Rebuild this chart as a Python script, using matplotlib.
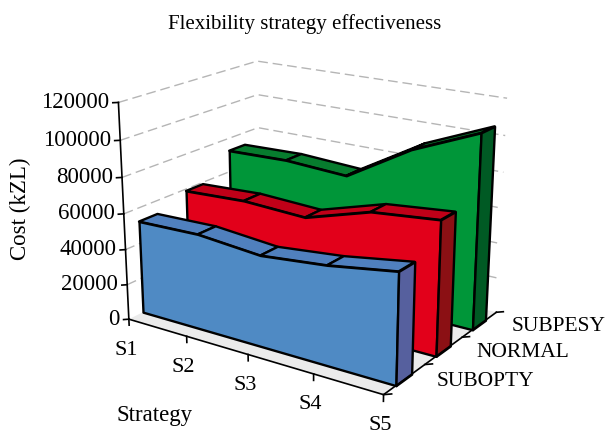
import matplotlib
matplotlib.use('Agg')
import matplotlib.pyplot as plt
import numpy as np
from mpl_toolkits.mplot3d import proj3d
from mpl_toolkits.mplot3d.art3d import Poly3DCollection

plt.rcParams['font.family'] = ['Liberation Serif', 'DejaVu Serif']

strategies = ['S1', 'S2', 'S3', 'S4', 'S5']
scenarios = ['SUBOPTY', 'NORMAL', 'SUBPESY']
cost_subopty = [52400, 53200, 50000, 53400, 59000]
cost_normal = [58900, 60500, 58800, 69500, 73000]
cost_subpesy = [72600, 73500, 71400, 92600, 107900]
zticks = [0, 20000, 40000, 60000, 80000, 100000, 120000]

front_colors = ['#4f8ac4', '#e2001a', '#009639']
top_colors = ['#5080be', '#c00018', '#077c2e']
side_colors = ['#56609e', '#8b1014', '#005a24']
series = [cost_subopty, cost_normal, cost_subpesy]

W, H = 609, 434
fig = plt.figure(figsize=(W / 100, H / 100), dpi=100)
size = 428.4
ax = fig.add_axes([94 / W, 3 / H, size / W, size / H], projection='3d', computed_zorder=False)
ax.view_init(elev=18.76, azim=-56.13, roll=-0.07)
ax.set_proj_type('persp', focal_length=0.565)
ax.set_box_aspect((1, 0.747, 0.75))
ax.set_axis_off()

x = np.arange(len(strategies))
x_max = x[-1]
y_max = len(scenarios)
z_max = zticks[-1]


def label(xv, yv, zv, text, dx, dy, **kw):
    # 3D anchor, text offset in pixels on the picture
    u, v, _ = proj3d.proj_transform(xv, yv, zv, ax.get_proj())
    ax.annotate(text, (u, v), xytext=(dx, dy), textcoords='offset pixels',
                annotation_clip=False, zorder=60, **kw)


# back walls, dashed grid only
for z in zticks[1:]:
    ax.plot([0, 0, x_max], [0, y_max, y_max], [z, z, z], color='#b5b5b5', lw=1,
            ls=(0, (7, 3.5)), zorder=1)

# floor
floor = [(0, 0, 0), (x_max, 0, 0), (x_max, y_max, 0), (0, y_max, 0)]
ax.add_collection3d(Poly3DCollection([floor], facecolors='#ebebeb', edgecolors='none', zorder=2))

# bands, back one first
for k in reversed(range(len(series))):
    vals = series[k]
    y0 = k + 0.29
    y1 = k + 0.67
    z_order = 10 + 10 * (len(series) - k)
    ribbons = [[(x[i], y0, vals[i]), (x[i + 1], y0, vals[i + 1]),
                (x[i + 1], y1, vals[i + 1]), (x[i], y1, vals[i])] for i in range(len(x) - 1)]
    ax.add_collection3d(Poly3DCollection(ribbons, facecolors=top_colors[k], edgecolors='black',
                                         linewidths=1.7, zorder=z_order))
    front = [(x[i], y0, vals[i]) for i in range(len(x))] + [(x[-1], y0, 0), (x[0], y0, 0)]
    ax.add_collection3d(Poly3DCollection([front], facecolors=front_colors[k], edgecolors='black',
                                         linewidths=1.7, zorder=z_order + 1))
    end = [(x[-1], y0, 0), (x[-1], y1, 0), (x[-1], y1, vals[-1]), (x[-1], y0, vals[-1])]
    ax.add_collection3d(Poly3DCollection([end], facecolors=side_colors[k], edgecolors='black',
                                         linewidths=1.7, zorder=z_order + 1))

# axis lines
ax.plot([0, 0], [0, 0], [0, z_max], color='black', lw=1.2, zorder=50)
ax.plot([0, x_max, x_max], [0, 0, y_max], [0, 0, 0], color='black', lw=1.2, zorder=50)

ax.set_xlim(0, x_max)
ax.set_ylim(0, y_max)
ax.set_zlim(0, z_max)

# ticks
for z in zticks:
    ax.plot([0, -0.05], [0, -0.05], [z, z], color='black', lw=1.2, zorder=50)
    label(0, 0, z, str(z), -9, 0, ha='right', va='center', fontsize=16.5)
for i, name in zip(x, strategies):
    ax.plot([i, i], [0, 0], [0, -3500], color='black', lw=1.2, zorder=50)
    label(i, 0, 0, name, -3, -31, ha='center', va='center', fontsize=16)
for j in range(y_max + 1):
    ax.plot([x_max, x_max + 0.07], [j, j + 0.07], [0, 0], color='black', lw=1.2, zorder=50)
for j, name in enumerate(scenarios):
    label(x_max, j + 0.5, 0, name, 32, -2, ha='left', va='center', fontsize=15.5)

fig.text(305 / W, 1 - 24 / H, 'Flexibility strategy effectiveness', ha='center', va='center', fontsize=15)
fig.text(20 / W, 1 - 209 / H, 'Cost (kZL)', rotation=90, ha='center', va='center', fontsize=16.5)
fig.text(117 / W, 1 - 415 / H, 'Strategy', ha='left', va='center', fontsize=16.5)
fig.savefig('out.png', dpi=100)
